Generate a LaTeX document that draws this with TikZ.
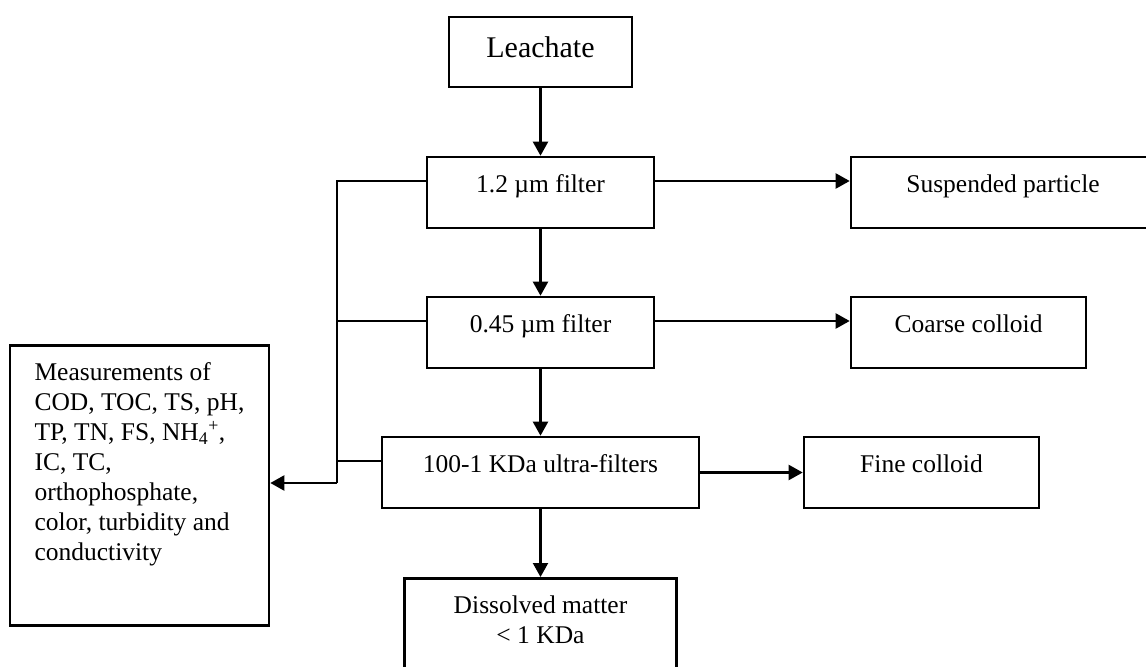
\documentclass[tikz,border=0pt]{standalone}
\usepackage{fontspec}
\setmainfont{Liberation Serif}
\usetikzlibrary{arrows.meta}

\begin{document}
\begin{tikzpicture}[x=1bp,y=-1bp,
		box_style/.style={draw=black,line width=2.6bp,inner sep=0pt,minimum height=71bp,text height=17bp,text depth=17bp,font=\fontsize{25.5bp}{30bp}\selectfont},
		line_style/.style={draw=black,line width=2.2bp},
		arrow_style/.style={draw=black,line width=2.2bp,-{Triangle[length=14bp,width=15bp]}}]
		
		\useasboundingbox (0,0) rectangle (1146,667);
		\clip (0,0) rectangle (1146,667);
		
		\node[box_style,minimum width=183bp,minimum height=70bp,text height=20bp,text depth=8.6bp,font=\fontsize{30bp}{36bp}\selectfont] (n0) at (540.5,52) {Leachate};
		\node[box_style,minimum width=227bp] (n1) at (540.5,192.5) {1.2 µm filter};
		\node[box_style,minimum width=227bp] (n2) at (540.5,332.5) {0.45 µm filter};
		\node[box_style,minimum width=317bp] (n3) at (540.5,472.5) {100-1 KDa ultra-filters};
		\node[box_style,anchor=north,align=center,minimum width=272bp,inner ysep=17.7bp,text height=47bp,text depth=60bp] (n4) at (540.5,577) {Dissolved matter\\< 1 KDa};
		
		\node[box_style,minimum width=304bp] (n5) at (1003,192.5) {Suspended particle};
		\node[box_style,minimum width=235bp] (n6) at (968.5,332.5) {Coarse colloid};
		\node[box_style,minimum width=235bp] (n7) at (921.5,472.5) {Fine colloid};
		
		\node[box_style,anchor=north,align=left,minimum width=259bp,inner ysep=18bp,text height=197.3bp,text depth=46.7bp] (n8) at (139.5,344) {Measurements of\\COD, TOC, TS, pH,\\TP, TN, FS, NH\textsubscript{4}\textsuperscript{+},\\IC, TC,\\orthophosphate,\\color, turbidity and\\conductivity};
		
		\coordinate (b1) at (337,181);
		\coordinate (b2) at (337,321);
		\coordinate (b3) at (337,461);
		\coordinate (b4) at (337,483);
		
		\draw[arrow_style] (n0) -- (n1);
		\draw[arrow_style] (n1) -- (n2);
		\draw[arrow_style] (n2) -- (n3);
		\draw[arrow_style] (n3) -- (n4);
		
		\draw[arrow_style] (n1.east |- b1) -- (n5.west |- b1);
		\draw[arrow_style] (n2.east |- b2) -- (n6.west |- b2);
		\draw[arrow_style] (n3) -- (n7);
		
		\draw[line_style] (n1.west |- b1) -- (b1) -- (b4);
		\draw[line_style] (n2.west |- b2) -- (b2);
		\draw[line_style] (n3.west |- b3) -- (b3);
		\draw[arrow_style] (b4) -- (n8.east |- b4);

\end{tikzpicture}
\end{document}
